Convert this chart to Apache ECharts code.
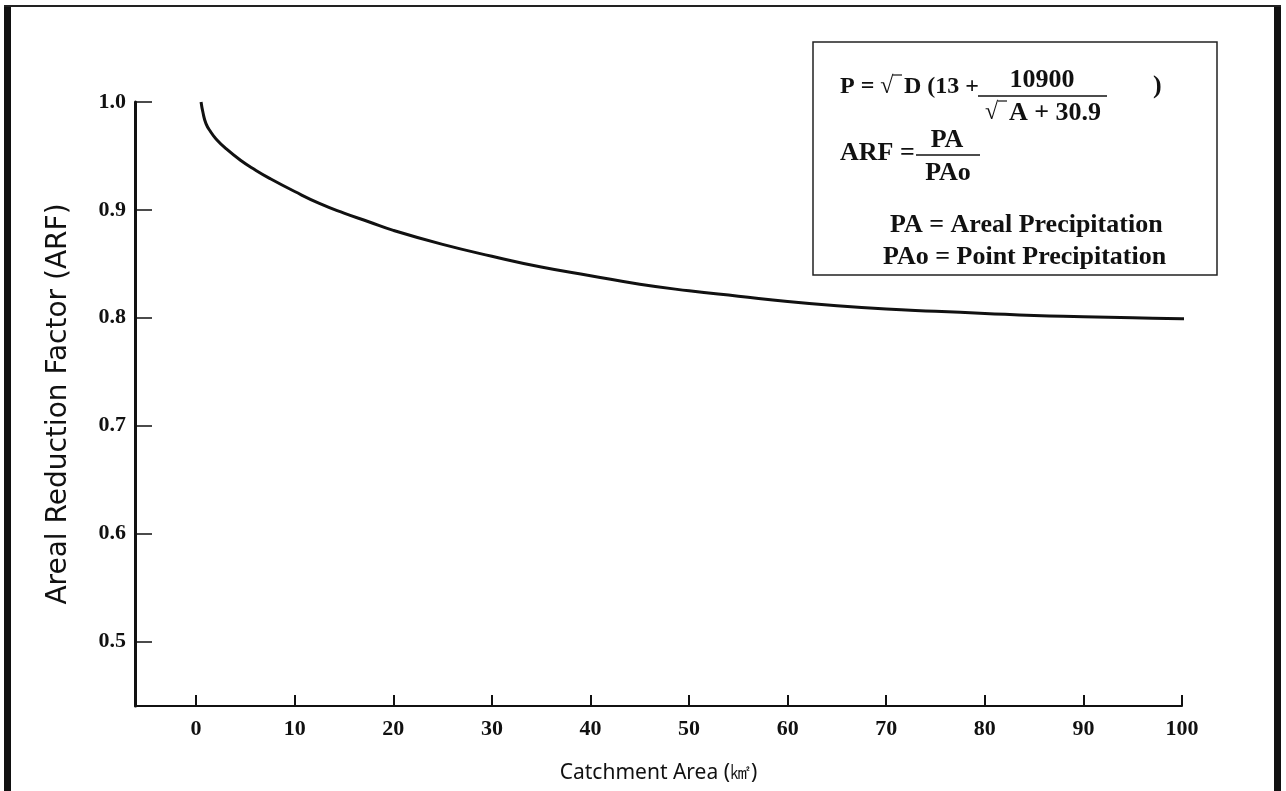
<!DOCTYPE html>
<html>
<head>
<meta charset="utf-8">
<title>Areal Reduction Factor</title>
<script src="https://cdn.jsdelivr.net/npm/echarts@6/dist/echarts.min.js"></script>
<style>
html, body { margin: 0; padding: 0; background: #fff; }
#main { width: 1286px; height: 791px; }
</style>
</head>
<body>
<div id="main"></div>
<script>
// catchment area (km2) and ARF
const areaKm = [0.5, 0.7, 1, 1.5, 2, 3, 4.5, 6, 7.5, 10, 12.5, 15, 17.5, 20, 25, 30, 35, 40, 45, 50, 55, 60, 65, 70, 75, 80, 85, 90, 95, 100, 102];
const arf = [1.0, 0.99, 0.98, 0.972, 0.966, 0.957, 0.946, 0.937, 0.929, 0.917, 0.906, 0.897, 0.889, 0.881, 0.868, 0.857, 0.847, 0.839, 0.831, 0.825, 0.82, 0.815, 0.811, 0.808, 0.806, 0.804, 0.802, 0.801, 0.8, 0.799, 0.799];

const xTicks = [0, 10, 20, 30, 40, 50, 60, 70, 80, 90, 100];
const yTicks = [0.5, 0.6, 0.7, 0.8, 0.9, 1.0];

const serif = '"Liberation Serif", "Times New Roman", serif';

const chart = echarts.init(document.getElementById('main'));

function txt(text, x, y, align, size) {
	return {
		type: 'text',
		style: {
			text: text, x: x, y: y,
			font: 'bold ' + (size || 26) + 'px ' + serif,
			fill: '#111',
			textAlign: align || 'left',
			textVerticalAlign: 'middle'
		}
	};
}
function hline(x1, x2, y, w) {
	return {
		type: 'line',
		shape: { x1: x1, y1: y, x2: x2, y2: y },
		style: { stroke: '#111', lineWidth: w || 1.5 }
	};
}

const option = {
	backgroundColor: '#fff',
	animation: false,
	grid: {
		left: 135,
		right: 104,
		top: 102,
		bottom: 85
	},
	xAxis: {
		type: 'value',
		min: -6.2,
		max: 100,
		name: 'Catchment Area (㎢)',
		nameLocation: 'middle',
		nameGap: 57,
		nameTextStyle: { fontFamily: 'Noto Sans', fontSize: 21, color: '#111' },
		axisLine: { lineStyle: { color: '#111', width: 2 } },
		axisTick: { inside: true, length: 11, customValues: xTicks, lineStyle: { color: '#111', width: 2 } },
		axisLabel: {
			customValues: xTicks,
			margin: 12,
			fontFamily: serif,
			fontWeight: 'bold',
			fontSize: 22,
			color: '#111'
		},
		splitLine: { show: false }
	},
	yAxis: {
		type: 'value',
		min: 0.44,
		max: 1.0,
		name: 'Areal Reduction Factor (ARF)',
		nameLocation: 'middle',
		nameGap: 62,
		nameTextStyle: { fontFamily: 'DejaVu Sans', fontSize: 28, color: '#111' },
		axisLine: { show: true, onZero: false, lineStyle: { color: '#111', width: 3 } },
		axisTick: { inside: true, length: 17, customValues: yTicks, lineStyle: { color: '#111', width: 1.5 } },
		axisLabel: {
			customValues: yTicks,
			margin: 9,
			fontFamily: serif,
			fontWeight: 'bold',
			fontSize: 22,
			color: '#111',
			formatter: v => v.toFixed(1)
		},
		splitLine: { show: false }
	},
	series: [
		{
			type: 'line',
			data: areaKm.map((a, i) => [a, arf[i]]),
			smooth: true,
			showSymbol: false,
			clip: false,
			lineStyle: { color: '#111', width: 3 }
		}
	],
	graphic: [
		// page frame
		{ type: 'rect', shape: { x: 4, y: 5, width: 7, height: 786 }, style: { fill: '#111' } },
		{ type: 'rect', shape: { x: 1274, y: 5, width: 7, height: 786 }, style: { fill: '#111' } },
		{ type: 'rect', shape: { x: 4, y: 5, width: 1277, height: 2 }, style: { fill: '#222' } },
		// formula box
		{
			type: 'rect',
			shape: { x: 813, y: 42, width: 404, height: 233 },
			style: { fill: '#fff', stroke: '#222', lineWidth: 1.5 }
		},
		txt('P = √', 840, 87, 'left', 24),
		hline(893, 902, 75, 1.2),
		txt('D (13 +', 904, 87, 'left', 24),
		txt('10900', 1042, 80, 'center'),
		hline(978, 1107, 96),
		txt('√', 985, 113, 'left', 24),
		hline(998, 1007, 101, 1.2),
		txt('A + 30.9', 1009, 113, 'left', 26),
		txt(')', 1153, 86),
		txt('ARF =', 840, 153),
		txt('PA', 947, 140, 'center'),
		hline(916, 980, 155),
		txt('PAo', 948, 173, 'center'),
		txt('PA = Areal Precipitation', 890, 225),
		txt('PAo = Point Precipitation', 883, 257)
	]
};

chart.setOption(option);
</script>
</body>
</html>
